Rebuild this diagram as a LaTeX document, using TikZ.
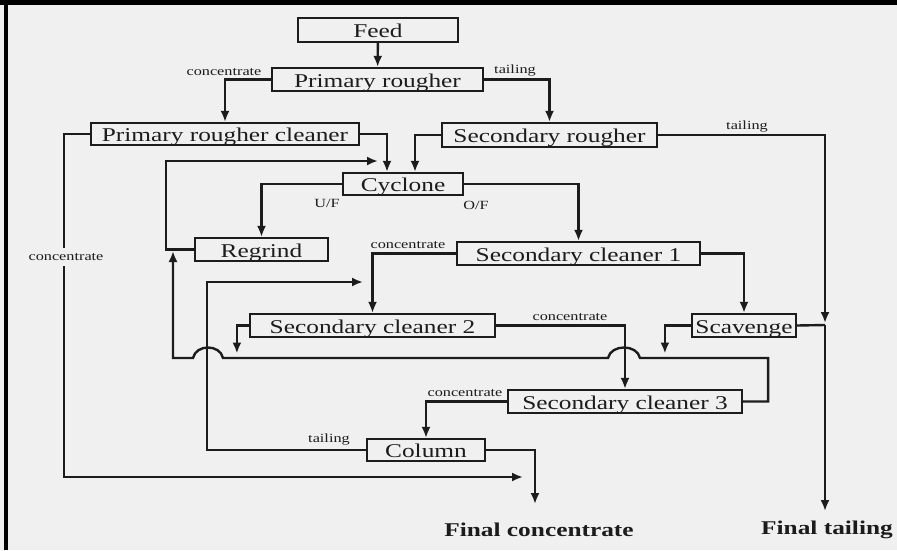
\documentclass[tikz,border=0pt]{standalone}
\usepackage{fontspec}
\setmainfont{Liberation Serif}[FakeStretch=1.3]
\usetikzlibrary{arrows.meta,calc}
\definecolor{bg}{HTML}{F0F0F0}
\definecolor{ink}{HTML}{1C1C1C}
\begin{document}
\begin{tikzpicture}[x=1pt,y=-1pt,
  unit/.style={draw=ink, line width=2.2pt, fill=bg, inner sep=0pt, text=ink,
    font=\fontsize{19.5}{20}\selectfont, text height=15pt, text depth=0pt},
  lab/.style={text=ink, font=\fontsize{12.5}{13}\selectfont, inner sep=1pt},
  flow/.style={draw=ink, line width=2.4pt, -{Latex[length=11pt,width=9pt]}},
  plain/.style={draw=ink, line width=2.4pt},
  final/.style={text=ink, font=\fontsize{19.5}{20}\selectfont\bfseries}
]
\fill[bg] (0,0) rectangle (897,550);
\useasboundingbox (0,0) rectangle (897,550);
\fill[black] (0,0) rectangle (897,5);
\fill[black] (4,0) rectangle (8,550);

% units
\node[unit, minimum width=160pt, minimum height=24pt] (feed) at (378,30) {Feed};
\node[unit, minimum width=211pt, minimum height=23pt] (pr) at (377.5,79.5) {Primary rougher};
\node[unit, minimum width=268pt, minimum height=22pt] (prc) at (225,134) {Primary rougher cleaner};
\node[unit, minimum width=215pt, minimum height=24pt] (sr) at (549.5,135) {Secondary rougher};
\node[unit, minimum width=120pt, minimum height=22pt] (cyc) at (403,184) {Cyclone};
\node[unit, minimum width=133pt, minimum height=23pt] (reg) at (261.5,249.5) {Regrind};
\node[unit, minimum width=243pt, minimum height=23pt] (sc1) at (578.5,253.5) {Secondary cleaner 1};
\node[unit, minimum width=245pt, minimum height=23pt] (sc2) at (372.5,325.5) {Secondary cleaner 2};
\node[unit, minimum width=104pt, minimum height=23pt] (scav) at (744,325.5) {Scavenge};
\node[unit, minimum width=234pt, minimum height=23pt] (sc3) at (625,401.5) {Secondary cleaner 3};
\node[unit, minimum width=118pt, minimum height=22pt] (col) at (426,450) {Column};

% free ends
\coordinate (regtip) at (378,161);
\coordinate (tj) at (825,325);
\coordinate (ftip) at (825,511);
\coordinate (c2tip) at (363,282);
\coordinate (fctipa) at (523,477);
\coordinate (fctipb) at (535,504);
\coordinate (rettip) at (173,251);

% connectors
\draw[flow] (feed) -- (pr);
\draw[flow] (pr.west) -| (prc.north);
\draw[flow] (pr.east) -| (sr.north);
\draw[flow] (prc.east) -| ([xshift=-16pt]cyc.north);
\draw[flow] (sr.west) -| ([xshift=12pt]cyc.north);
\draw[flow] (cyc.west) -| (reg.north);
\draw[flow] (cyc.east) -| (sc1.north);
\draw[flow] (reg.west) -- ++(-28,0) |- (regtip);
\draw[flow] (sc1.west) -| (sc2.north);
\draw[flow] (sc1.east) -| (scav.north);
\draw[flow] (sc2.west) -- ++(-12,0) -- ++(0,28);
\draw[flow] (scav.west) -- ++(-26,0) -- ++(0,28);
\draw[flow] (sc2.east) -| (sc3.north);
\draw[flow] (sr.east) -| ([yshift=2pt]tj);
\draw[plain] (scav.east) -- (tj);
\draw[flow] (tj) -- (ftip);
\draw[flow] (sc3.east) -- ++(25,0) |- (640,358)
  .. controls (637,344) and (611,344) .. (608,358) -- (223,358)
  .. controls (220,344) and (196,344) .. (193,358) -- (173,358) -- (rettip);
\draw[flow] (col.west) -- (207,450) |- (c2tip);
\draw[flow] (prc.west) -- ++(-26,0) |- (fctipa);
\draw[flow] (col.east) -| (fctipb);
\draw[flow] (sc3.west) -| (col.north);

% labels
\node[lab] (l1) at (224,72) {concentrate};
\node[lab] (l2) at (515,71) {tailing};
\node[lab] (l3) at (747,127) {tailing};
\node[lab] (l4) at (327,203) {U/F};
\node[lab] (l5) at (476,205) {O/F};
\node[lab, fill=bg, inner ysep=5pt] (l6) at (66,257) {concentrate};
\node[lab] (l7) at (408,245) {concentrate};
\node[lab] (l8) at (570,317) {concentrate};
\node[lab] (l9) at (465,393) {concentrate};
\node[lab] (l10) at (329,440) {tailing};
\node[final] (fc) at (539,530) {Final concentrate};
\node[final] (ft) at (827,530) {Final tailing};
\end{tikzpicture}
\end{document}
